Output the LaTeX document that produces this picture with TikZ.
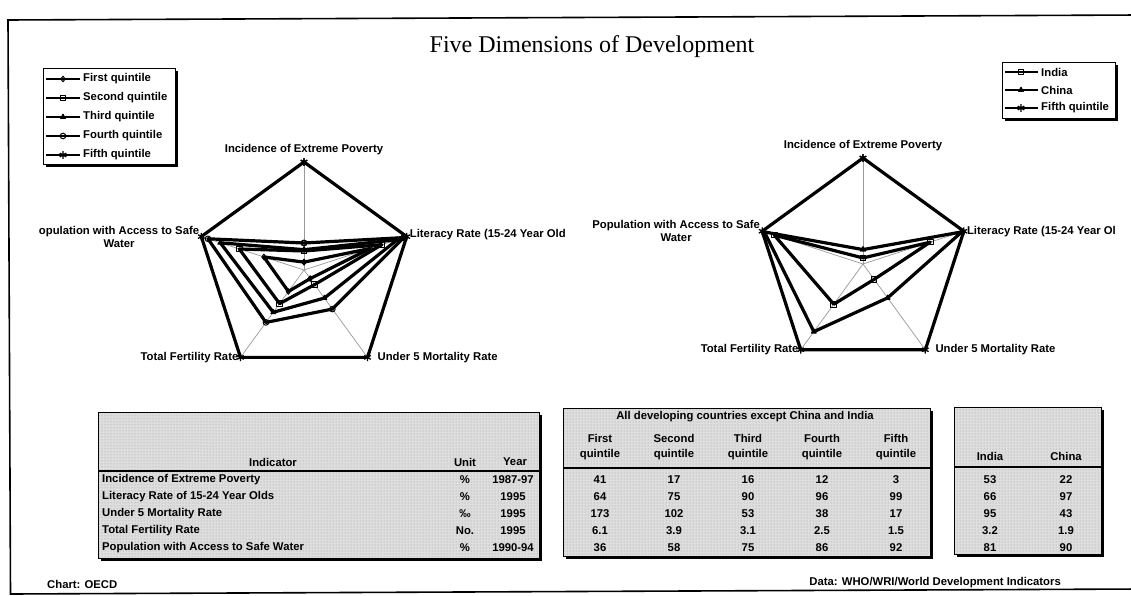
\documentclass[tikz,border=0pt]{standalone}
\usepackage{fontspec}
\setmainfont{Liberation Serif}
\newfontfamily\arialfont{Liberation Sans}
\usetikzlibrary{positioning,patterns,plotmarks}
\definecolor{tabgray}{gray}{0.87}

\begin{document}
\begin{tikzpicture}[x=1pt,y=-1pt,
axisline/.style={draw=gray!80, line width=0.7pt},
series/.style={draw=black, line width=3.2pt, line join=round, mark size=2.8pt},
qone/.style={mark=diamond, mark options={fill=white, line width=1pt}},
qtwo/.style={mark=square, mark options={fill=white, line width=1pt}},
qthree/.style={mark=triangle*, mark options={line width=1pt}},
qfour/.style={mark=o, mark options={fill=white, line width=1pt}},
qfive/.style={mark=asterisk, mark size=3.8pt, mark options={line width=1.3pt}},
smalltext/.style={font=\arialfont\bfseries\fontsize{11.3}{13}\selectfont, inner sep=1pt},
axislabel/.style={smalltext},
tabtext/.style={smalltext, inner sep=0pt},
titletext/.style={font=\fontsize{24}{28}\selectfont, inner sep=0pt},
legendbox/.style={draw, fill=white, line width=0.8pt},
shadowbox/.style={fill=black},
tablebox/.style={draw, line width=0.8pt, preaction={fill=tabgray}, pattern=dots, pattern color=gray!80},
headrule/.style={line width=2pt}
]
\useasboundingbox (0,0) rectangle (1131,596);
\fill[white] (0,0) rectangle (1131,596);

% page frame
\draw[line width=1.6pt] (8,20) -- (1140,15) -- (1140,589) -- (10.5,594) -- cycle;
\node[titletext] (title) at (592,47) {Five Dimensions of Development};

% left legend
\fill[shadowbox] (46,71) rectangle (178,167);
\draw[legendbox] (43,68) rectangle (175,164);
\foreach \st/\txt [count=\k] in {qone/First quintile, qtwo/Second quintile, qthree/Third quintile, qfour/Fourth quintile, qfive/Fifth quintile}{
  \draw[series, line width=2.6pt, \st, mark indices={2}] plot coordinates {(46,{60+19*\k}) (63,{60+19*\k}) (80,{60+19*\k})};
  \node[smalltext, anchor=west] (lleg\k) at (82,{60+19*\k}) {\txt};
}

% right legend
\fill[shadowbox] (1005,65) rectangle (1118,121);
\draw[legendbox] (1002,62) rectangle (1115,118);
\foreach \st/\txt [count=\k] in {qtwo/India, qthree/China, qfive/Fifth quintile}{
  \draw[series, line width=2.6pt, \st, mark indices={2}] plot coordinates {(1005,{54+18*\k}) (1021,{54+18*\k}) (1038,{54+18*\k})};
  \node[smalltext, anchor=west] (rleg\k) at (1040,{54+18*\k}) {\txt};
}

% left radar: quintiles
\begin{scope}[shift={(304,270)}]
  \coordinate (lc) at (0,0);
  \foreach \ang [count=\k] in {-90,-18,54,126,198}
    \coordinate (la\k) at (\ang:108);
  \foreach \k in {1,...,5}
    \draw[axisline] (lc) -- (la\k);
  \foreach \st/\a/\b/\c/\d/\e in {qone/0.073/0.646/0.098/0.246/0.391, qtwo/0.176/0.758/0.167/0.385/0.630, qthree/0.188/0.909/0.321/0.484/0.815, qfour/0.25/0.970/0.447/0.6/0.935, qfive/1/1/1/1/1}
    \draw[series, \st] plot coordinates {(-90:\a*108) (-18:\b*108) (54:\c*108) (126:\d*108) (198:\e*108) (-90:\a*108)};
\end{scope}
\node[axislabel, above=6pt of la1] (lpov) {Incidence of Extreme Poverty};
\node[axislabel, right=2pt of la2, yshift=2pt] (llit) {Literacy Rate (15-24 Year Old};
\node[axislabel, right=9pt of la3] (lmort) {Under 5 Mortality Rate};
\node[axislabel, left=1pt of la4] (lfert) {Total Fertility Rate};
\node[axislabel, left=1pt of la5, align=center] (lwat) {opulation with Access to Safe\\Water};

% right radar: India and China
\begin{scope}[shift={(863,264)}]
  \coordinate (rc) at (0,0);
  \foreach \ang [count=\k] in {-90,-18,54,126,198}
    \coordinate (ra\k) at (\ang:106);
  \foreach \k in {1,...,5}
    \draw[axisline] (rc) -- (ra\k);
  \foreach \st/\a/\b/\c/\d/\e in {qtwo/0.057/0.667/0.179/0.469/0.880, qthree/0.136/0.980/0.395/0.789/0.978, qfive/1/1/1/1/1}
    \draw[series, \st] plot coordinates {(-90:\a*106) (-18:\b*106) (54:\c*106) (126:\d*106) (198:\e*106) (-90:\a*106)};
\end{scope}
\node[axislabel, above=6pt of ra1] (rpov) {Incidence of Extreme Poverty};
\node[axislabel, right=2pt of ra2] (rlit) {Literacy Rate (15-24 Year Ol};
\node[axislabel, right=9pt of ra3] (rmort) {Under 5 Mortality Rate};
\node[axislabel, left=1pt of ra4] (rfert) {Total Fertility Rate};
\node[axislabel, left=1pt of ra5, align=center] (rwat) {Population with Access to Safe\\Water};

% indicator table
\fill[shadowbox] (101,415) rectangle (542,561);
\draw[tablebox] (98,412) rectangle (539,558);
\draw[headrule] (98,471) -- (539,471);
\node[tabtext] (hind) at (273,462) {Indicator};
\node[tabtext] (hunit) at (465,462) {Unit};
\node[tabtext] (hyear) at (515,462) {Year};
\foreach \txt/\un/\yr [count=\r] in {Incidence of Extreme Poverty/\%/1987-97, Literacy Rate of 15-24 Year Olds/\%/1995, Under 5 Mortality Rate/‰/1995, Total Fertility Rate/No./1995, Population with Access to Safe Water/\%/1990-94}{
  \node[tabtext, anchor=west] (ind\r) at (102,{463+17*\r}) {\txt};
  \node[tabtext] (unit\r) at (465,{463+17*\r}) {\un};
  \node[tabtext] (year\r) at (513,{463+17*\r}) {\yr};
}

% quintile table
\fill[shadowbox] (566,411) rectangle (933,559);
\draw[tablebox] (563,408) rectangle (930,556);
\draw[headrule] (563,468) -- (930,468);
\node[tabtext] (qtitle) at (745,417) {All developing countries except China and India};
\foreach \hd [count=\c] in {First, Second, Third, Fourth, Fifth}
  \node[tabtext, align=center, font=\arialfont\bfseries\fontsize{11.3}{15}\selectfont] (qh\c) at ({526+74*\c},447) {\hd\\quintile};
\foreach \row [count=\r] in {{41,17,16,12,3},{64,75,90,96,99},{173,102,53,38,17},{6.1,3.9,3.1,2.5,1.5},{36,58,75,86,92}}
  \foreach \v [count=\c] in \row
    \node[tabtext] (q\r\c) at ({526+74*\c},{463+17*\r}) {\v};

% India and China table
\fill[shadowbox] (957,410) rectangle (1104,557);
\draw[tablebox] (954,407) rectangle (1101,554);
\draw[headrule] (954,467) -- (1101,467);
\node[tabtext] (hindia) at (990,456) {India};
\node[tabtext] (hchina) at (1066,456) {China};
\foreach \i/\ch [count=\r] in {53/22, 66/97, 95/43, 3.2/1.9, 81/90}{
  \node[tabtext] (ind\r i) at (990,{463+17*\r}) {\i};
  \node[tabtext] (chn\r) at (1066,{463+17*\r}) {\ch};
}

% sources
\node[smalltext, anchor=west] (chart) at (46,584) {Chart: OECD};
\node[smalltext, anchor=east] (data) at (1062,583) {Data: WHO/WRI/World Development Indicators};
\end{tikzpicture}
\end{document}
